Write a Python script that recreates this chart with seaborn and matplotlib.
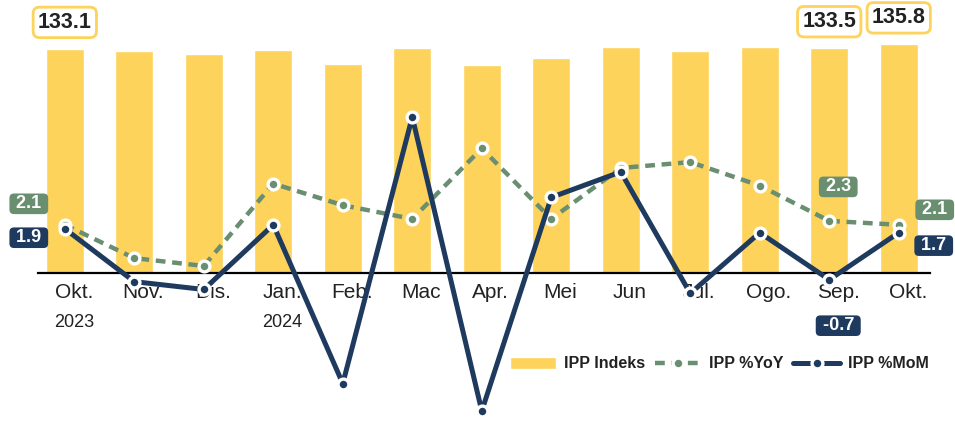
import numpy as np
import pandas as pd
import matplotlib
matplotlib.use("Agg")
import matplotlib.pyplot as plt
import matplotlib.transforms as mtransforms
import seaborn as sns

# data
months = ["Okt.", "Nov.", "Dis.", "Jan.", "Feb.", "Mac", "Apr.", "Mei", "Jun", "Jul.", "Ogo.", "Sep.", "Okt."]
years = ["2023", "2024"]
year_pos = [0, 3]
ipp_index = [133.1, 131.6, 130.0, 132.5, 124.3, 133.7, 123.5, 127.8, 134.3, 132.0, 134.3, 133.5, 135.8]
ipp_yoy = [2.1, 0.4, 0.0, 4.2, 3.1, 2.4, 6.0, 2.4, 5.0, 5.3, 4.1, 2.3, 2.1]
ipp_mom = [1.9, -0.8, -1.2, 2.1, -6.0, 7.6, -7.4, 3.5, 4.8, -1.4, 1.7, -0.7, 1.7]

# which points carry a value label
index_labels = [0, 11, 12]
yoy_labels = [0, 11, 12]
mom_labels = [0, 11, 12]

df = pd.DataFrame({"pos": np.arange(len(months)), "indeks": ipp_index,
                   "yoy": ipp_yoy, "mom": ipp_mom})

# colours
YELLOW = "#FDD35B"
GREEN = "#6A8F70"
NAVY = "#1F3A5F"
TEXT = "#222222"

sns.set_theme(style="white")
plt.rcParams["font.family"] = ["Liberation Sans", "DejaVu Sans"]

fig = plt.figure(figsize=(9.55, 4.21), dpi=100)
ax = fig.add_axes([37.7 / 955, 0, 892.3 / 955, 1])

####
# Bars (index)
####
sns.barplot(data=df, x="pos", y="indeks", ax=ax, color=YELLOW, saturation=1,
            width=0.55, errorbar=None)

ax.set_xlim(-0.39, 12.45)
ax.set_ylim(-87.4, 162.0)
ax.xaxis.remove_overlapping_locs = False
ax.set_xticks(range(len(months)), months)
ax.set_xticks(year_pos, years, minor=True)
ax.set_yticks([])
ax.set_xlabel("")
ax.set_ylabel("")
for side in ["top", "left", "right"]:
    ax.spines[side].set_visible(False)
ax.spines["bottom"].set_position(("data", 0))
ax.spines["bottom"].set_color("black")
ax.spines["bottom"].set_linewidth(1.6)
ax.tick_params(axis="x", which="major", length=0, pad=7, labelsize=15, labelcolor=TEXT)
ax.tick_params(axis="x", which="minor", length=0, pad=29, labelsize=13, labelcolor=TEXT)

# category labels sit a little right of the bar centres in the original
shift = mtransforms.ScaledTranslation(9 / 100, 0, fig.dpi_scale_trans)
for lab in ax.get_xticklabels(which="both"):
    lab.set_transform(lab.get_transform() + shift)

for i in index_labels:
    ax.annotate(f"{ipp_index[i]:.1f}", xy=(i, ipp_index[i]), xytext=(0, 19),
                textcoords="offset points", ha="center", va="center",
                fontsize=15.5, fontweight="bold", color=TEXT,
                bbox=dict(boxstyle="round,pad=0.22,rounding_size=0.3",
                          fc="white", ec=YELLOW, lw=2))

####
# Lines (YoY and MoM) on the second axis
####
ax2 = ax.twinx()
sns.lineplot(data=df, x="pos", y="yoy", ax=ax2, color=GREEN, lw=3.2,
             linestyle=(0, (2.2, 1.5)), dash_capstyle="butt",
             marker="o", markersize=7.8, markerfacecolor=GREEN,
             markeredgecolor="white", markeredgewidth=2.4)
sns.lineplot(data=df, x="pos", y="mom", ax=ax2, color=NAVY, lw=3.6,
             marker="o", markersize=7.8, markerfacecolor=NAVY,
             markeredgecolor="white", markeredgewidth=2.4)

ax2.set_xlim(-0.39, 12.45)
ax2.set_ylim(-7.91, 13.57)
ax2.set_yticks([])
ax2.set_ylabel("")
for side in ["top", "bottom", "left", "right"]:
    ax2.spines[side].set_visible(False)

# label offsets in pixels (dx, dy with y downward)
yoy_offsets = {0: (-36, -21), 11: (9, -34), 12: (36, -15)}
mom_offsets = {0: (-36, 9), 11: (9, 46), 12: (35, 13)}


def line_label(values, i, offset, colour):
    dx, dy = offset
    ax2.annotate(f" {values[i]:.1f} ", xy=(i, values[i]),
                 xytext=(dx * 0.72, -dy * 0.72), textcoords="offset points",
                 ha="center", va="center", fontsize=13, fontweight="bold",
                 color="white",
                 bbox=dict(boxstyle="round,pad=0.1,rounding_size=0.25",
                           fc=colour, ec="none"))


for i in yoy_labels:
    line_label(ipp_yoy, i, yoy_offsets[i], GREEN)
for i in mom_labels:
    line_label(ipp_mom, i, mom_offsets[i], NAVY)

####
# Legend
####
handles = [ax.containers[0], ax2.lines[0], ax2.lines[1]]
labels = ["IPP Indeks", "IPP %YoY", "IPP %MoM"]
fig.legend(handles, labels, loc="center right",
           bbox_to_anchor=(943 / 955, 1 - 364 / 421), ncol=3, frameon=False,
           prop={"weight": "bold", "size": 11.5}, labelcolor=TEXT,
           handlelength=2.9, handletextpad=0.5, columnspacing=0.6)

fig.savefig("out.png", dpi=100)
